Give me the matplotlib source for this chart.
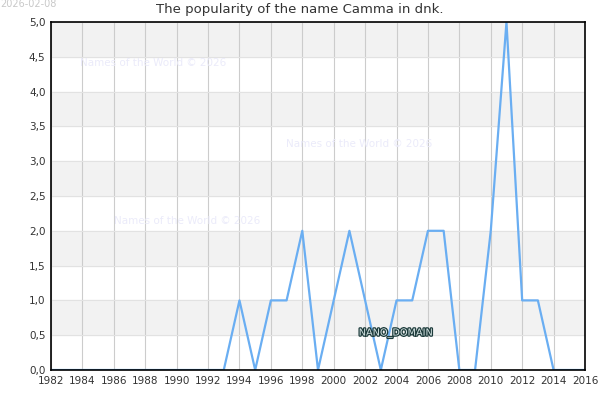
import matplotlib
matplotlib.use("Agg")
import matplotlib.pyplot as plt
import matplotlib.patheffects as pe
from matplotlib.ticker import FuncFormatter

# data
years = list(range(1982, 2017))
counts = [0, 0, 0, 0, 0, 0, 0, 0, 0, 0, 0, 0,   # 1982-1993
          1, 0, 1, 1, 2, 0, 1, 2, 1, 0,         # 1994-2003
          1, 1, 2, 2, 0, 0, 2, 5, 1, 1,         # 2004-2013
          0, 0, 0]                              # 2014-2016
x_ticks = list(range(1982, 2017, 2))
y_ticks = [0.0, 0.5, 1.0, 1.5, 2.0, 2.5, 3.0, 3.5, 4.0, 4.5, 5.0]

fig = plt.figure(figsize=(6, 4), dpi=100)
ax = fig.add_axes([51/600, 30/400, 534/600, 348/400])

# alternating bands
for lo in [0.5, 1.5, 2.5, 3.5, 4.5]:
    ax.axhspan(lo, lo + 0.5, color="#f2f2f2", zorder=0)

ax.plot(years, counts, color="#6aaef2", linewidth=1.6, zorder=3)

ax.set_xlim(1982, 2016)
ax.set_ylim(0, 5)
ax.set_xticks(x_ticks)
ax.set_yticks(y_ticks)
ax.yaxis.set_major_formatter(FuncFormatter(lambda v, p: f"{v:.1f}".replace(".", ",")))
ax.grid(True, axis="x", color="#cccccc", linewidth=0.8, zorder=1)
ax.grid(True, axis="y", color="#e2e2e2", linewidth=0.8, zorder=1)
ax.set_axisbelow(True)
ax.tick_params(axis="both", labelsize=7.5, colors="#333333", length=0, pad=4)
for s in ax.spines.values():
    s.set_color("black")
    s.set_linewidth(1.2)
    s.set_zorder(4)

fig.text(0.5, 0.975, "The popularity of the name Camma in dnk.", ha="center", va="center",
         fontsize=9.5, color="#333333")
fig.text(0.0, 0.99, "2026-02-08", ha="left", va="center", fontsize=7, color="#c8c8c8")

wm = "Names of the World © 2026"
for (px, py) in [(153, 63), (359, 144), (187, 221)]:
    fig.text(px/600, 1 - py/400, wm, ha="center", va="center", fontsize=7.5,
             color="#ebebfa", zorder=2)

fig.text(396/600, 1 - 333/400, "NANO_DOMAIN", ha="center", va="center", fontsize=7,
         color="#d5e3e3",
         path_effects=[pe.withStroke(linewidth=1.8, foreground="#1d3b3b")])

fig.savefig("out.png", dpi=100)
